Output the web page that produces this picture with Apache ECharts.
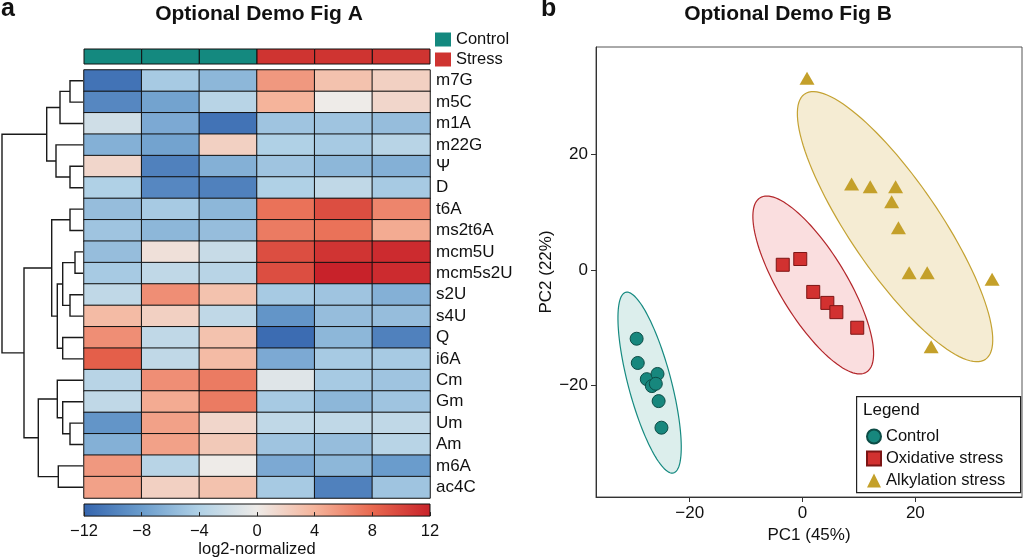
<!DOCTYPE html>
<html><head><meta charset="utf-8">
<script src="https://cdn.jsdelivr.net/npm/echarts@6/dist/echarts.min.js"></script>
<style>html,body{margin:0;padding:0;background:#fff}#c{width:1024px;height:559px}</style>
</head><body><div id="c"></div>
<script>
// ---------- Panel A data ----------
const rowLabels = ['m7G','m5C','m1A','m22G','Ψ','D','t6A','ms2t6A','mcm5U','mcm5s2U','s2U','s4U','Q','i6A','Cm','Gm','Um','Am','m6A','ac4C'];
const colLabels = ['C1','C2','C3','S1','S2','S3'];
const colGroups = ['Control group','Control group','Control group','Stress group','Stress group','Stress group'];
const cellValues = [
  [-11, -4.5, -6, 5.5, 3, 2],
  [-9.5, -7.5, -3.5, 4, 0, 1.5],
  [-2, -7, -11, -5, -5, -5.5],
  [-6.5, -7.5, 2, -4, -4.5, -3.5],
  [1.5, -10, -6.5, -5, -6, -6.5],
  [-4, -9.5, -10, -4, -3, -4.5],
  [-5.5, -4.5, -6, 7.5, 9.5, 6.5],
  [-5, -6, -5.5, 7, 7.5, 4.5],
  [-5.5, 0.8, -2.5, 9.5, 11, 11.5],
  [-4.5, -3, -3.5, 9.5, 12, 11.5],
  [-3, 6, 3, -4.5, -5, -6.5],
  [3.5, 2, -3, -8.5, -5.5, -5.5],
  [6, -3, 3, -11.5, -6, -10],
  [8.5, -3, 3.5, -7, -4.5, -4.5],
  [-3.5, 6, 7, -1, -4.5, -5],
  [-3, 4.5, 7, -4.5, -6, -5],
  [-8.5, 5, 1.5, -3, -3, -3],
  [-6.5, 5, 2.5, -5, -5.5, -3.5],
  [5.5, -3.5, 0, -7, -6, -8],
  [5, 2, 3, -4.5, -10, -5]
];
const colorTicks = [-12, -8, -4, 0, 4, 8, 12];
const colorStops = ['#3565ae', '#6a9ccc', '#b0d1e6', '#eeebe8', '#f5b49b', '#e8684f', '#c8222a'];
const groupColors = {'Control group': '#14897f', 'Stress group': '#cf3431'};
// linkage: [left, right, height]; merge k is referred to as 'n'+k
const dendroMerges = [
  ['m7G','m5C',13], ['n0','m1A',23], ['Ψ','D',13], ['m22G','n2',27], ['n1','n3',36.3],
  ['t6A','ms2t6A',13], ['mcm5U','mcm5s2U',8], ['s2U','s4U',13], ['n6','n7',20.3],
  ['Q','i6A',20.3], ['n8','n9',25.7], ['n5','n10',31.3], ['Um','Am',13], ['Gm','n12',20.3],
  ['Cm','n13',25.7], ['m6A','ac4C',24.7], ['n14','n15',44.7], ['n11','n16',59], ['n4','n17',81]
];

// ---------- Panel B data ----------
const controlPts = [[-29.4,-11.9],[-29.2,-16.1],[-27.6,-18.9],[-25.7,-18.0],[-26.7,-20.1],[-26.0,-19.7],[-25.5,-22.7],[-25.0,-27.3]];
const oxidativePts = [[-3.5,0.9],[-0.4,1.9],[1.9,-3.8],[4.4,-5.7],[6.0,-7.3],[9.7,-10.0]];
const alkylationPts = [[0.8,33.2],[8.7,14.9],[12.0,14.4],[16.5,14.4],[15.8,11.8],[17.0,7.3],[18.9,-0.5],[22.1,-0.5],[33.6,-1.6],[22.8,-13.3]];
// ellipse: [cx, cy, semi-major, semi-minor, angle(deg)]
const controlEllipse = [-27.1, -19.5, 16.2, 3.8, -74.8];
const oxidativeEllipse = [1.9, -2.6, 17.8, 5.9, -57.9];
const alkylationEllipse = [16.4, 7.5, 28.0, 7.9, -55];
const pcTicks = [-20, 0, 20];
const pc1Range = [-36.6, 38.9];
const pc2Range = [-39.3, 38.6];

// ---------- build ----------
const FONT = 'Liberation Sans, Arial, Helvetica, sans-serif';
const heatData = [];
cellValues.forEach((row, r) => row.forEach((v, c) => heatData.push([c, r, v])));

const nodePos = {}, nodeH = {};
rowLabels.forEach((n, i) => { nodePos[n] = i; nodeH[n] = 0; });
const dendroData = dendroMerges.map((m, k) => {
  const [a, b, h] = m;
  nodePos['n' + k] = (nodePos[a] + nodePos[b]) / 2; nodeH['n' + k] = h;
  return [nodeH[a], nodePos[a], nodeH[b], nodePos[b], h];
});

const stops = colorStops.map((c, i) => ({offset: i / (colorStops.length - 1), color: c}));

function ellipseSeries(name, params, stroke, fill) {
  return {
    type: 'custom', name: name, xAxisIndex: 4, yAxisIndex: 4, z: 1,
    data: [params], silent: true,
    renderItem: function (p, api) {
      const cx = api.value(0), cy = api.value(1), a = api.value(2), b = api.value(3);
      const t0 = api.value(4) * Math.PI / 180;
      const pts = [];
      for (let i = 0; i < 120; i++) {
        const t = i / 120 * Math.PI * 2;
        pts.push(api.coord([
          cx + a * Math.cos(t0) * Math.cos(t) - b * Math.sin(t0) * Math.sin(t),
          cy + a * Math.sin(t0) * Math.cos(t) + b * Math.cos(t0) * Math.sin(t)
        ]));
      }
      return {type: 'polygon', shape: {points: pts}, style: {fill: fill, stroke: stroke, lineWidth: 1.2}};
    }
  };
}

const grpSeries = ['Control group', 'Stress group'].map(g => ({
  type: 'custom', name: g, xAxisIndex: 1, yAxisIndex: 1,
  itemStyle: {color: groupColors[g]},
  data: colGroups.map((x, i) => x === g ? [i, 0] : null).filter(d => d),
  renderItem: function (p, api) {
    const c = api.coord([api.value(0), 0]);
    const s = api.size([1, 1]);
    return {type: 'rect', shape: {x: c[0] - s[0] / 2, y: c[1] - s[1] / 2, width: s[0], height: s[1]},
      style: {fill: groupColors[g], stroke: '#111', lineWidth: 1}};
  }
}));

const option = {
  animation: false,
  backgroundColor: '#fff',
  textStyle: {fontFamily: FONT},
  graphic: [
    {type: 'rect', left: 856, top: 396, z: 8, silent: true,
      shape: {width: 164, height: 96}, style: {fill: '#fff', stroke: '#222', lineWidth: 1.2}}
  ],
  title: [
    {text: 'a', left: 1, top: -3, padding: 0, textStyle: {fontSize: 25, fontWeight: 'bold', color: '#111', fontFamily: FONT}},
    {text: 'Optional Demo Fig A', left: 259, top: 4, padding: 0, textAlign: 'center', textStyle: {fontSize: 21, fontWeight: 'bold', color: '#111', fontFamily: FONT}},
    {text: 'b', left: 541, top: -3, padding: 0, textStyle: {fontSize: 25, fontWeight: 'bold', color: '#111', fontFamily: FONT}},
    {text: 'Optional Demo Fig B', left: 788, top: 4, padding: 0, textAlign: 'center', textStyle: {fontSize: 21, fontWeight: 'bold', color: '#111', fontFamily: FONT}},
    {text: 'Legend', left: 863, top: 402, padding: 0, z: 20, textStyle: {fontSize: 17, fontWeight: 'normal', color: '#111', fontFamily: FONT}}
  ],
  legend: [
    {data: ['Control group', 'Stress group'], left: 435, top: 31, orient: 'vertical', padding: 0,
      itemGap: 3, itemWidth: 16, itemHeight: 14, icon: 'rect', selectedMode: false,
      formatter: n => n.replace(' group', ''),
      textStyle: {fontSize: 16.5, color: '#111', lineHeight: 14, fontFamily: FONT}},
    {data: ['Control', 'Oxidative stress', 'Alkylation stress'], left: 866, top: 428, orient: 'vertical',
      padding: 0, itemGap: 5, itemWidth: 14, itemHeight: 14, selectedMode: false, z: 12,
      textStyle: {fontSize: 16.5, color: '#111', lineHeight: 16, fontFamily: FONT}}
  ],
  visualMap: {type: 'continuous', show: false, min: colorTicks[0], max: colorTicks[colorTicks.length - 1],
    dimension: 2, seriesIndex: 1, inRange: {color: colorStops}},
  grid: [
    {left: 0, top: 70, width: 83, height: 428},
    {left: 84, top: 49, width: 346, height: 15},
    {left: 84, top: 70, width: 346, height: 428},
    {left: 84, top: 504, width: 346, height: 14},
    {left: 596, top: 47, width: 426, height: 450, show: true, borderColor: '#555', borderWidth: 1}
  ],
  xAxis: [
    {gridIndex: 0, type: 'value', min: 0, max: 83, inverse: true, show: false},
    {gridIndex: 1, type: 'category', data: colLabels, show: false},
    {gridIndex: 2, type: 'category', data: colLabels, show: false},
    {gridIndex: 3, type: 'value', min: colorTicks[0], max: colorTicks[colorTicks.length - 1], interval: 4, z: 10,
      axisLine: {show: false}, splitLine: {show: false},
      axisTick: {inside: true, length: 4, lineStyle: {color: '#222', width: 1}},
      axisLabel: {margin: 7, fontSize: 16.5, color: '#111', fontFamily: FONT, formatter: v => String(v).replace('-', '−')},
      name: 'log2-normalized', nameLocation: 'middle', nameGap: 24,
      nameTextStyle: {fontSize: 16.5, color: '#111', fontFamily: FONT}},
    {gridIndex: 4, type: 'value', min: pc1Range[0], max: pc1Range[1], splitLine: {show: false},
      axisLine: {onZero: false, lineStyle: {color: '#333', width: 1}},
      axisTick: {customValues: pcTicks, length: 5, lineStyle: {color: '#333'}},
      axisLabel: {customValues: pcTicks, margin: 8, fontSize: 17, color: '#111', fontFamily: FONT, formatter: v => String(v).replace('-', '−')},
      name: 'PC1 (45%)', nameLocation: 'middle', nameGap: 29,
      nameTextStyle: {fontSize: 17, color: '#111', fontFamily: FONT}}
  ],
  yAxis: [
    {gridIndex: 0, type: 'value', min: -0.5, max: rowLabels.length - 0.5, inverse: true, show: false},
    {gridIndex: 1, type: 'category', data: ['group'], show: false},
    {gridIndex: 2, type: 'category', data: rowLabels, inverse: true, position: 'right',
      axisLine: {show: false}, axisTick: {show: false},
      axisLabel: {interval: 0, margin: 6, fontSize: 17, color: '#111', fontFamily: FONT}},
    {gridIndex: 3, type: 'value', min: 0, max: 1, show: false},
    {gridIndex: 4, type: 'value', min: pc2Range[0], max: pc2Range[1], splitLine: {show: false},
      axisLine: {onZero: false, lineStyle: {color: '#333', width: 1}},
      axisTick: {customValues: pcTicks, length: 5, lineStyle: {color: '#333'}},
      axisLabel: {customValues: pcTicks, margin: 8, fontSize: 17, color: '#111', fontFamily: FONT, formatter: v => String(v).replace('-', '−')},
      name: 'PC2 (22%)', nameLocation: 'middle', nameGap: 36,
      nameTextStyle: {fontSize: 17, color: '#111', fontFamily: FONT}}
  ],
  series: [
    {type: 'custom', name: 'dendrogram', xAxisIndex: 0, yAxisIndex: 0, data: dendroData, silent: true,
      renderItem: function (p, api) {
        const pts = [
          api.coord([api.value(0), api.value(1)]), api.coord([api.value(4), api.value(1)]),
          api.coord([api.value(4), api.value(3)]), api.coord([api.value(2), api.value(3)])
        ];
        return {type: 'polyline', shape: {points: pts}, style: {stroke: '#1a1a1a', lineWidth: 1.4, fill: null}};
      }},
    {type: 'heatmap', name: 'expr', xAxisIndex: 2, yAxisIndex: 2, data: heatData,
      itemStyle: {borderColor: '#111', borderWidth: 1}},
    grpSeries[0], grpSeries[1],
    {type: 'custom', name: 'colorbar', xAxisIndex: 3, yAxisIndex: 3, silent: true,
      data: [[colorTicks[0], colorTicks[colorTicks.length - 1]]],
      renderItem: function (p, api) {
        const a = api.coord([api.value(0), 1]), b = api.coord([api.value(1), 0]);
        return {type: 'rect', shape: {x: a[0], y: a[1], width: b[0] - a[0], height: b[1] - a[1]},
          style: {fill: {type: 'linear', x: 0, y: 0, x2: 1, y2: 0, colorStops: stops}, stroke: '#111', lineWidth: 1}};
      }},
    ellipseSeries('Control ellipse', controlEllipse, '#168a80', 'rgba(22,138,128,0.15)'),
    ellipseSeries('Oxidative ellipse', oxidativeEllipse, '#b3262a', 'rgba(225,70,75,0.18)'),
    ellipseSeries('Alkylation ellipse', alkylationEllipse, '#c4a232', 'rgba(215,180,80,0.25)'),
    {type: 'scatter', name: 'Control', xAxisIndex: 4, yAxisIndex: 4, data: controlPts, z: 5,
      symbol: 'circle', symbolSize: 13, itemStyle: {color: '#17877d', borderColor: '#0c4c46', borderWidth: 1, opacity: 1}},
    {type: 'scatter', name: 'Oxidative stress', xAxisIndex: 4, yAxisIndex: 4, data: oxidativePts, z: 5,
      symbol: 'rect', symbolSize: 13, itemStyle: {color: '#d23130', borderColor: '#7c1515', borderWidth: 1, opacity: 1}},
    {type: 'scatter', name: 'Alkylation stress', xAxisIndex: 4, yAxisIndex: 4, data: alkylationPts, z: 5,
      symbol: 'triangle', symbolSize: [15, 13], itemStyle: {color: '#c4a02a', opacity: 1}}
  ]
};
echarts.init(document.getElementById('c'), null, {renderer: 'canvas'}).setOption(option);
</script></body></html>
